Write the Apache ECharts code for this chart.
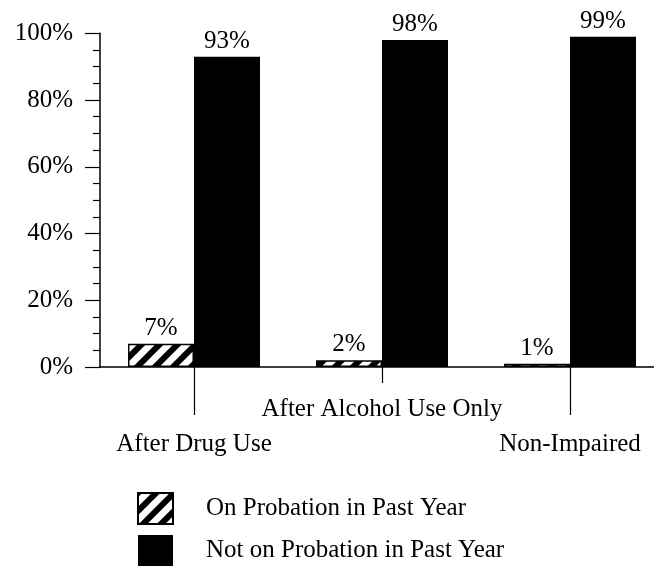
<!DOCTYPE html>
<html>
<head>
<meta charset="utf-8">
<script src="https://cdn.jsdelivr.net/npm/echarts@6/dist/echarts.min.js"></script>
<style>
html,body{margin:0;padding:0;background:#fff;}
#chart{width:654px;height:567px;}
</style>
</head>
<body>
<div id="chart"></div>
<script>
const categories = ['After Drug Use', 'After Alcohol Use Only', 'Non-Impaired'];
const seriesNames = ['On Probation in Past Year', 'Not on Probation in Past Year'];
const onProbation = [7, 2, 1];
const notOnProbation = [93, 98, 99];
const yTicks = [0, 20, 40, 60, 80, 100];

const FONT = 'Liberation Serif';

// diagonal hatch pattern
const pc = document.createElement('canvas');
pc.width = 18; pc.height = 18;
const ctx = pc.getContext('2d');
ctx.fillStyle = '#fff';
ctx.fillRect(0, 0, 18, 18);
ctx.strokeStyle = '#000';
ctx.lineWidth = 6;
ctx.beginPath();
ctx.moveTo(-4, 22); ctx.lineTo(22, -4);
ctx.moveTo(-4, 4); ctx.lineTo(4, -4);
ctx.moveTo(14, 22); ctx.lineTo(22, 14);
ctx.stroke();

const chart = echarts.init(document.getElementById('chart'), null, {renderer: 'canvas'});

const labelStyle = {
  show: true,
  position: 'top',
  distance: 3,
  formatter: '{c}%',
  color: '#000',
  fontFamily: FONT,
  fontSize: 25
};

chart.setOption({
  animation: false,
  backgroundColor: '#fff',
  textStyle: {fontFamily: FONT, color: '#000'},
  grid: {left: 100, right: -10, top: 33.3, bottom: 200, containLabel: false, outerBoundsMode: 'none'},
  legend: {
    orient: 'vertical',
    left: 137,
    top: 492,
    padding: 0,
    itemWidth: 35,
    itemHeight: 31,
    itemGap: 10,
    icon: 'rect',
    data: seriesNames,
    textStyle: {fontFamily: FONT, fontSize: 25, color: '#000', padding: [0, 0, 0, 28]}
  },
  xAxis: [
    {
      type: 'category',
      data: categories,
      position: 'bottom',
      axisLine: {show: true, lineStyle: {color: '#000', width: 1.5}},
      axisTick: {show: true, alignWithLabel: true, length: 48, interval: (i) => i !== 1, lineStyle: {color: '#000', width: 1.2}},
      axisLabel: {show: true, interval: (i) => i !== 1, margin: 65, color: '#000', fontFamily: FONT, fontSize: 25},
      splitLine: {show: false}
    },
    {
      type: 'category',
      data: categories,
      position: 'bottom',
      axisLine: {show: false},
      axisTick: {show: true, alignWithLabel: true, length: 16, interval: (i) => i === 1, lineStyle: {color: '#000', width: 1.2}},
      axisLabel: {show: true, interval: (i) => i === 1, margin: 30, color: '#000', fontFamily: FONT, fontSize: 25},
      splitLine: {show: false}
    }
  ],
  yAxis: {
    type: 'value',
    min: yTicks[0],
    max: yTicks[yTicks.length - 1],
    interval: 20,
    axisLine: {show: true, lineStyle: {color: '#000', width: 1.5}},
    axisTick: {show: true, length: 15, lineStyle: {color: '#000', width: 1.2}},
    minorTick: {show: true, splitNumber: 4, length: 7, lineStyle: {color: '#000', width: 1.2}},
    axisLabel: {formatter: '{value}%', margin: 27, color: '#000', fontFamily: FONT, fontSize: 25},
    splitLine: {show: false}
  },
  series: [
    {
      name: seriesNames[0],
      type: 'bar',
      xAxisIndex: 0,
      data: onProbation,
      barWidth: 66,
      barGap: '0%',
      itemStyle: {color: {image: pc, repeat: 'repeat'}, borderColor: '#000', borderWidth: 1.5},
      label: labelStyle
    },
    {
      name: seriesNames[1],
      type: 'bar',
      xAxisIndex: 0,
      data: notOnProbation,
      barWidth: 66,
      barGap: '0%',
      itemStyle: {color: '#000', borderColor: '#000', borderWidth: 0},
      label: labelStyle
    }
  ]
});
</script>
</body>
</html>
